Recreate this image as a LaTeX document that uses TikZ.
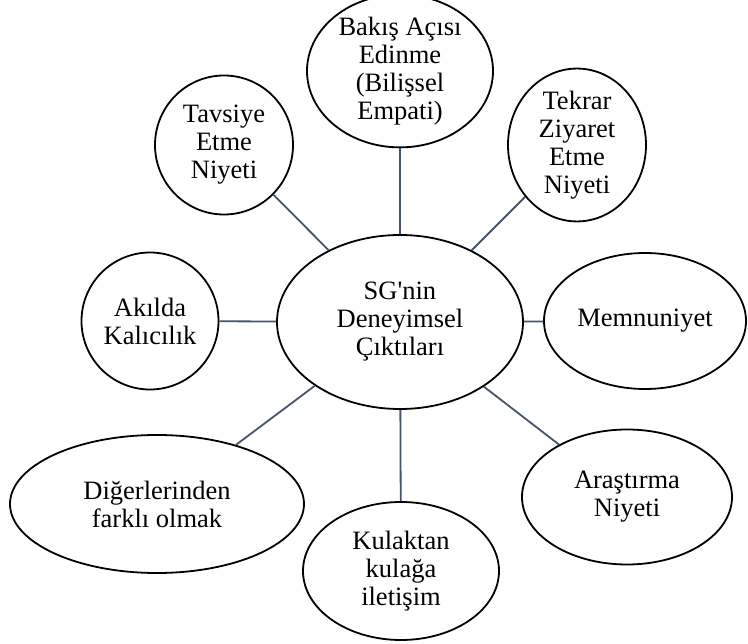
\documentclass[tikz,border=0pt]{standalone}
\usepackage{fontspec}
\setmainfont{Liberation Serif}
\usetikzlibrary{shapes.geometric}
\definecolor{linkc}{HTML}{44546A}
\begin{document}
\begin{tikzpicture}[x=1pt,y=-1pt,
  bubble/.style={ellipse,draw=black,line width=1.8pt,fill=white,inner sep=0pt,align=center,
    font=\fontsize{26.5}{28}\selectfont},
  link/.style={draw=linkc,line width=1.8pt}]
\useasboundingbox (0,0) rectangle (748,644);
\node[bubble,minimum width=246,minimum height=174] (c) at (400,322) {SG\textquotesingle nin\\Deneyimsel\\Çıktıları};
\node[bubble,minimum width=186,minimum height=138] (bak) at (400,71) {Bakış Açısı\\Edinme\\(Bilişsel\\Empati)};
\node[bubble,minimum width=138,minimum height=139] (tav) at (224,145) {Tavsiye\\Etme\\Niyeti};
\node[bubble,minimum width=138,minimum height=139] (tek) at (577,145) {Tekrar\\Ziyaret\\Etme\\Niyeti};
\node[bubble,minimum width=137,minimum height=137] (aki) at (150,321) {Akılda\\Kalıcılık};
\node[bubble,minimum width=202,minimum height=136] (mem) at (645,321) {Memnuniyet};
\node[bubble,minimum width=294,minimum height=138] (dig) at (157,504) {Diğerlerinden\\farklı olmak};
\node[bubble,minimum width=196,minimum height=138] (kul) at (401,571) {Kulaktan\\kulağa\\iletişim};
\node[bubble,minimum width=210,minimum height=135] (ara) at (627,497) {Araştırma\\Niyeti};
\foreach \n in {bak,tav,tek,aki,mem,dig,kul,ara}
  \draw[link] (c) -- (\n);
\end{tikzpicture}
\end{document}
